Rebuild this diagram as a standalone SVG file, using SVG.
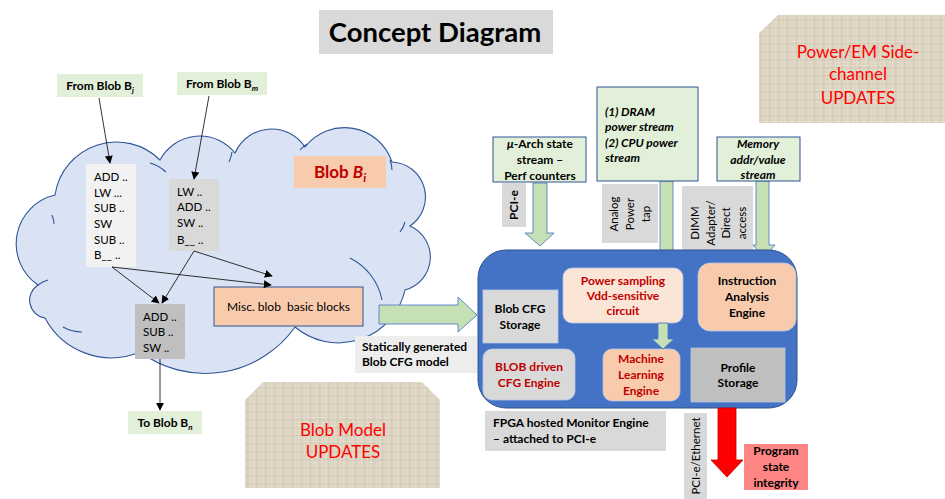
<svg xmlns="http://www.w3.org/2000/svg" width="945" height="499" viewBox="0 0 945 499">
  <defs>
    <style>
      text { font-family: Lato, "Liberation Sans", sans-serif; fill: #000; }
      .b { font-weight: bold; }
      .bi { font-weight: bold; font-style: italic; }
      .red { fill: #c00000; }
      .upd { fill: #ff0000; font-size: 17px; }
      .code { font-size: 11.5px; }
      .lbl { font-size: 12px; font-weight: bold; }
      .thin { stroke: #000; stroke-width: 0.8; fill: none; marker-end: url(#ah); }
      .green { fill: #e2f0d9; }
      .inbox { fill: #e2f0d9; stroke: #2f5597; stroke-width: 1; }
      .garrow { fill: #c5e0b4; stroke: #4472c4; stroke-width: 0.8; }
      .grey { fill: #d9d9d9; }
      .cloudline { fill: none; stroke: #2f5597; stroke-width: 1.1; }
      .box { stroke: #b4c7e7; stroke-width: 0.8; }
    </style>
    <marker id="ah" viewBox="0 0 10 10" refX="9" refY="5" markerWidth="8" markerHeight="8" orient="auto" markerUnits="userSpaceOnUse">
      <path d="M0,0 L10,5 L0,10 z" fill="#000"/>
    </marker>
    <!-- woven canvas texture for the update badges -->
    <pattern id="canvas" width="9" height="8" patternUnits="userSpaceOnUse">
      <rect width="9" height="8" fill="#dbd2bf"/>
      <rect x="0" y="1" width="9" height="0.7" fill="#e8e1d3"/>
      <rect x="0" y="3.5" width="9" height="0.6" fill="#cfc5b0"/>
      <rect x="0" y="6" width="9" height="0.7" fill="#e4ddcd"/>
      <rect x="1.5" y="0" width="0.7" height="8" fill="#e9e3d6" opacity="0.8"/>
      <rect x="4.5" y="0" width="0.6" height="8" fill="#cbc1ab" opacity="0.7"/>
      <rect x="7" y="0" width="0.6" height="8" fill="#e6dfd0" opacity="0.8"/>
    </pattern>
  </defs>

  <rect width="945" height="499" fill="#fff"/>

  <!-- title -->
  <g id="title">
    <rect x="319" y="10" width="234" height="44" fill="#d9d9d9"/>
    <text x="435" y="42" text-anchor="middle" class="b" font-size="27.5">Concept Diagram</text>
  </g>

  <!-- update badges -->
  <g id="power-em-updates">
    <path d="M778,15 H945 V123 H759 V33 Z" fill="url(#canvas)"/>
    <text x="858" y="58" text-anchor="middle" class="upd">Power/EM Side-</text>
    <text x="858" y="80" text-anchor="middle" class="upd">channel</text>
    <text x="858" y="104" text-anchor="middle" class="upd">UPDATES</text>
  </g>
  <g id="blob-model-updates">
    <path d="M263,382 H422 L440,400 V488 H245 V400 Z" fill="url(#canvas)"/>
    <text x="343" y="436" text-anchor="middle" class="upd">Blob Model</text>
    <text x="343" y="458" text-anchor="middle" class="upd">UPDATES</text>
  </g>

  <!-- blob cloud -->
  <g id="blob-cloud">
    <path d="M38,285 A50,50 0 0 1 55,195 A62,62 0 0 1 160,160 A45,45 0 0 1 235,153 A40,40 0 0 1 305,147 A50,50 0 0 1 392,162 A35,35 0 0 1 410,226 A34,34 0 0 1 405,290 A68,68 0 0 1 295,327 A110,110 0 0 1 140,352 A75,75 0 0 1 45,318 A18,18 0 0 1 38,285 Z" fill="#dae3f3" stroke="#2f5597" stroke-width="1.1"/>
    <path class="cloudline" d="M150,163 A40,40 0 0 1 166,172"/>
    <path class="cloudline" d="M232,152 A40,40 0 0 1 229,162"/>
    <path class="cloudline" d="M300,150 A30,30 0 0 1 307,144"/>
    <path class="cloudline" d="M390,160 A30,30 0 0 1 392,170"/>
    <path class="cloudline" d="M405,222 A30,30 0 0 1 400,232"/>
    <path class="cloudline" d="M350,258 A60,60 0 0 1 382,300"/>
    <path class="cloudline" d="M296,326 A25,25 0 0 0 298,318"/>
    <path class="cloudline" d="M63,327 A40,40 0 0 0 82,332"/>
    <path class="cloudline" d="M52,215 A25,25 0 0 1 54,224"/>
    <path class="cloudline" d="M38,285 A25,25 0 0 1 48,280"/>
  </g>

  <g id="blob-label">
    <rect x="294" y="156" width="92" height="32" fill="#f8cbad"/>
    <text x="340" y="178" text-anchor="middle" class="b red" font-size="17">Blob <tspan font-style="italic">B</tspan><tspan font-style="italic" font-size="12" dy="4">i</tspan></text>
  </g>

  <!-- instruction blocks -->
  <g id="block-j">
    <rect x="86" y="164" width="50" height="103" fill="#f2f2f2"/>
    <text class="code" x="94" y="181">ADD ..</text>
    <text class="code" x="94" y="197">LW ...</text>
    <text class="code" x="94" y="212">SUB ..</text>
    <text class="code" x="94" y="228">SW</text>
    <text class="code" x="94" y="244">SUB ..</text>
    <text class="code" x="94" y="259">B__ ..</text>
  </g>
  <g id="block-m">
    <rect x="169" y="179" width="50" height="72" fill="#d9d9d9"/>
    <text class="code" x="177" y="196">LW ..</text>
    <text class="code" x="177" y="211">ADD ..</text>
    <text class="code" x="177" y="227">SW ..</text>
    <text class="code" x="177" y="244">B__ ..</text>
  </g>
  <g id="block-exit">
    <rect x="135" y="304" width="50" height="55" fill="#bfbfbf"/>
    <text class="code" x="143" y="321">ADD ..</text>
    <text class="code" x="143" y="336">SUB ..</text>
    <text class="code" x="143" y="352">SW ..</text>
  </g>
  <g id="misc-blocks">
    <rect x="214" y="287" width="149" height="39" fill="#f8cbad" stroke="#2f5597" stroke-width="1"/>
    <text x="288.5" y="311" text-anchor="middle" font-size="12" xml:space="preserve">Misc. blob  basic blocks</text>
  </g>

  <g id="from-bj">
    <rect x="57" y="74" width="86" height="23" class="green"/>
    <text x="100" y="90" text-anchor="middle" class="lbl">From Blob B<tspan font-style="italic" font-size="8" dy="3">j</tspan></text>
  </g>
  <g id="from-bm">
    <rect x="177" y="72" width="90" height="23" class="green"/>
    <text x="222" y="88" text-anchor="middle" class="lbl">From Blob B<tspan font-style="italic" font-size="8" dy="3">m</tspan></text>
  </g>
  <g id="to-bn">
    <rect x="128" y="411" width="74" height="23" class="green"/>
    <text x="165" y="427" text-anchor="middle" class="lbl">To Blob B<tspan font-style="italic" font-size="8" dy="3">n</tspan></text>
  </g>

  <!-- thin control-flow connectors -->
  <g id="connectors">
    <line class="thin" x1="99" y1="98" x2="110" y2="163"/>
    <line class="thin" x1="209" y1="96" x2="194" y2="179"/>
    <line class="thin" x1="112" y1="267" x2="159" y2="303"/>
    <line class="thin" x1="112" y1="267" x2="271" y2="285"/>
    <line class="thin" x1="194" y1="251" x2="162" y2="303"/>
    <line class="thin" x1="194" y1="251" x2="272" y2="276"/>
    <line class="thin" x1="160" y1="359" x2="160" y2="410"/>
    <!-- CFG model export -->
    <path class="garrow" d="M379,305 H458 V297 L477,315 L458,332 V324 H379 Z"/>
    <!-- input streams -->
    <path class="garrow" d="M533,183 H547 V233 H554 L540,246 L525,233 H533 Z"/>
    <path class="garrow" d="M660,181 H673 V253 H678 L666,267 L654,253 H660 Z"/>
    <path class="garrow" d="M756,181 H769 V245 H775 L764,258 L753,245 H756 Z"/>
  </g>

  <g id="cfg-model-label">
    <rect x="355" y="336" width="122" height="37" fill="#ededed"/>
    <text x="362" y="351" class="lbl">Statically generated</text>
    <text x="362" y="366" class="lbl">Blob CFG model</text>
  </g>

  <!-- input stream sources -->
  <g id="uarch-stream">
    <rect x="493" y="137" width="93" height="45" class="inbox"/>
    <text x="540" y="148" text-anchor="middle" class="lbl"><tspan font-style="italic">μ</tspan>-Arch state</text>
    <text x="540" y="164" text-anchor="middle" class="lbl">stream –</text>
    <text x="540" y="180" text-anchor="middle" class="lbl">Perf counters</text>
  </g>
  <g id="pcie-tag">
    <rect x="502" y="183" width="24" height="44" class="grey"/>
    <text transform="translate(518,205) rotate(-90)" text-anchor="middle" class="lbl">PCI-e</text>
  </g>
  <g id="power-stream">
    <rect x="597" y="87" width="101" height="94" class="inbox"/>
    <text x="605" y="116" class="lbl bi">(1) DRAM</text>
    <text x="605" y="131" class="lbl bi">power stream</text>
    <text x="605" y="147" class="lbl bi">(2) CPU power</text>
    <text x="605" y="162" class="lbl bi">stream</text>
  </g>
  <g id="analog-tap">
    <rect x="602" y="184" width="56" height="59" class="grey"/>
    <g transform="translate(630,214) rotate(-90)" font-size="11.5">
      <text x="0" y="-12" text-anchor="middle">Analog</text>
      <text x="0" y="4" text-anchor="middle">Power</text>
      <text x="0" y="20" text-anchor="middle">tap</text>
    </g>
  </g>
  <g id="memory-stream">
    <rect x="717" y="137" width="83" height="44" class="inbox"/>
    <text x="758" y="148" text-anchor="middle" class="lbl bi">Memory</text>
    <text x="758" y="164" text-anchor="middle" class="lbl bi">addr/value</text>
    <text x="758" y="179" text-anchor="middle" class="lbl bi">stream</text>
  </g>
  <g id="dimm-tap">
    <rect x="682" y="186" width="71" height="74" class="grey"/>
    <g transform="translate(718,223) rotate(-90)" font-size="11.5">
      <text x="0" y="-19" text-anchor="middle">DIMM</text>
      <text x="0" y="-3" text-anchor="middle">Adapter/</text>
      <text x="0" y="12" text-anchor="middle">Direct</text>
      <text x="0" y="28" text-anchor="middle">access</text>
    </g>
  </g>

  <!-- FPGA monitor engine -->
  <g id="fpga">
    <rect x="478" y="250" width="319" height="158" rx="28" fill="#4472c4" stroke="#2f528f" stroke-width="1"/>
  </g>
  <g id="blob-cfg-storage">
    <rect x="483" y="290" width="75" height="53" fill="#d9d9d9" class="box"/>
    <text x="520" y="313" text-anchor="middle" class="lbl">Blob CFG</text>
    <text x="520" y="329" text-anchor="middle" class="lbl">Storage</text>
  </g>
  <g id="cfg-engine">
    <rect x="483" y="349" width="92" height="51" rx="9" fill="#d9d9d9" class="box"/>
    <text x="529" y="371" text-anchor="middle" class="lbl red">BLOB driven</text>
    <text x="529" y="387" text-anchor="middle" class="lbl red">CFG Engine</text>
  </g>
  <g id="power-sampling">
    <rect x="563" y="268" width="120" height="55" rx="9" fill="#fbe5d6" class="box"/>
    <text x="623" y="285" text-anchor="middle" class="lbl red">Power sampling</text>
    <text x="623" y="300" text-anchor="middle" class="lbl red">Vdd-sensitive</text>
    <text x="623" y="315" text-anchor="middle" class="lbl red">circuit</text>
  </g>
  <g id="instruction-analysis">
    <rect x="698" y="263" width="98" height="68" rx="12" fill="#f8cbad" class="box"/>
    <text x="747" y="285" text-anchor="middle" class="lbl">Instruction</text>
    <text x="747" y="301" text-anchor="middle" class="lbl">Analysis</text>
    <text x="747" y="317" text-anchor="middle" class="lbl">Engine</text>
  </g>
  <g id="ml-engine">
    <rect x="603" y="349" width="77" height="52" rx="9" fill="#f8cbad" class="box"/>
    <text x="641" y="363" text-anchor="middle" class="lbl red">Machine</text>
    <text x="641" y="379" text-anchor="middle" class="lbl red">Learning</text>
    <text x="641" y="395" text-anchor="middle" class="lbl red">Engine</text>
  </g>
  <g id="profile-storage">
    <rect x="691" y="348" width="94" height="54" fill="#bfbfbf" class="box"/>
    <text x="738" y="372" text-anchor="middle" class="lbl">Profile</text>
    <text x="738" y="387" text-anchor="middle" class="lbl">Storage</text>
  </g>
  <g id="internal-link">
    <path class="garrow" d="M658,323 H668 V339 H674 L663,349 L652,339 H658 Z"/>
  </g>

  <g id="fpga-label">
    <rect x="485" y="411" width="181" height="40" fill="#d9d9d9"/>
    <text x="493" y="427" class="lbl">FPGA hosted Monitor Engine</text>
    <text x="493" y="443" class="lbl">– attached to PCI-e</text>
  </g>

  <!-- integrity output -->
  <g id="output-link">
    <rect x="684" y="413" width="23" height="86" fill="#d9d9d9"/>
    <text transform="translate(700,456) rotate(-90)" text-anchor="middle" font-size="11.5">PCI-e/Ethernet</text>
    <path d="M718,408 H736 V460 H743 L727,477 L711,460 H718 Z" fill="#ff0000" stroke="#c00000" stroke-width="0.8"/>
  </g>
  <g id="program-integrity">
    <rect x="744" y="444" width="64" height="46" fill="#ff8585"/>
    <text x="776" y="455" text-anchor="middle" class="lbl">Program</text>
    <text x="776" y="471" text-anchor="middle" class="lbl">state</text>
    <text x="776" y="487" text-anchor="middle" class="lbl">integrity</text>
  </g>
</svg>
